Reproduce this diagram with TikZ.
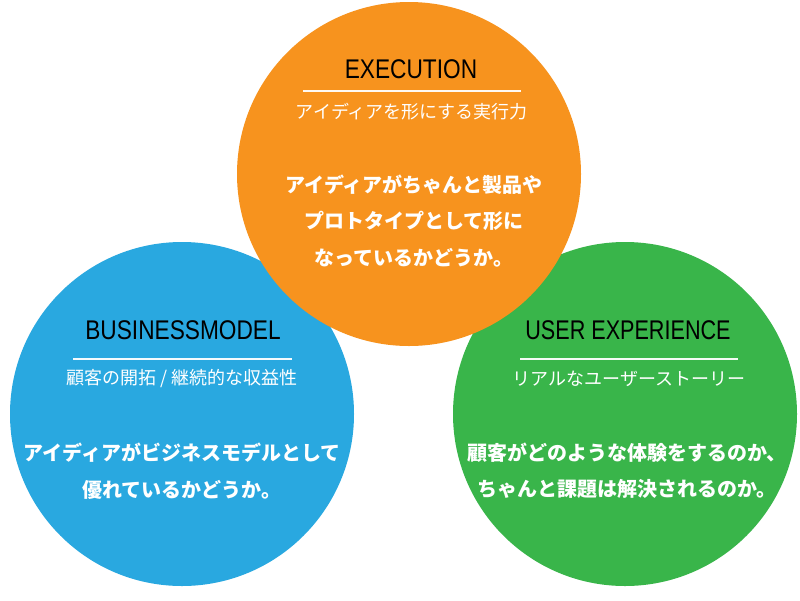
\documentclass[tikz,border=0pt]{standalone}
\usepackage{fontspec}
\setmainfont{Liberation Sans}
\newfontfamily\ttl{Liberation Sans}
\newfontfamily\jp{Noto Sans CJK JP}
\definecolor{corange}{HTML}{F7931E}
\definecolor{cblue}{HTML}{29A8E0}
\definecolor{cgreen}{HTML}{39B54A}
\tikzset{
  disc/.style={circle, minimum size=344pt, inner sep=0pt, draw=none},
  titletext/.style={text=black, font=\ttl\fontsize{27}{27}\selectfont, inner sep=0pt, anchor=center},
  subtext/.style={text=white, font=\jp\fontsize{18}{18}\selectfont, inner sep=0pt},
  bodytext/.style={text=white, font=\jp\bfseries\fontsize{20}{36.5}\selectfont, inner sep=0pt, align=center},
  rule/.style={draw=white, line width=2pt, opacity=0.95}
}
\begin{document}
\begin{tikzpicture}[x=1pt,y=-1pt]
\useasboundingbox (0,0) rectangle (800,600);
\fill[white] (0,0) rectangle (800,600);
% discs
\node[disc, fill=cblue] (blue) at (182,414) {};
\node[disc, fill=cgreen] (green) at (625,414) {};
\node[disc, fill=corange] (orange) at (409,174) {};
% EXECUTION
\node[titletext] (t1) at (411,69) {\scalebox{0.84}[1]{EXECUTION}};
\coordinate (u1a) at (303,91);
\coordinate (u1b) at (521,91);
\draw[rule] (u1a) -- (u1b);
\node[subtext] (s1) at (412,112) {アイディアを形にする実行力};
\node[bodytext] (b1) at (414,221) {アイディアがちゃんと製品や\\プロトタイプとして形に\\なっているかどうか。};
% BUSINESS MODEL
\node[titletext] (t2) at (183,330) {\scalebox{0.84}[1]{BUSINESSMODEL}};
\coordinate (u2a) at (73,359);
\coordinate (u2b) at (292,359);
\draw[rule] (u2a) -- (u2b);
\node[subtext] (s2) at (182,379) {顧客の開拓 / 継続的な収益性};
\node[bodytext] (b2) at (182,471) {アイディアがビジネスモデルとして\\優れているかどうか。};
% USER EXPERIENCE
\node[titletext] (t3) at (628,330) {\scalebox{0.8}[1]{USER EXPERIENCE}};
\coordinate (u3a) at (520,359);
\coordinate (u3b) at (738,359);
\draw[rule] (u3a) -- (u3b);
\node[subtext] (s3) at (629,379) {リアルなユーザーストーリー};
\node[bodytext] (b3) at (627,471) {顧客がどのような体験をするのか、\\ちゃんと課題は解決されるのか。};
\end{tikzpicture}
\end{document}
